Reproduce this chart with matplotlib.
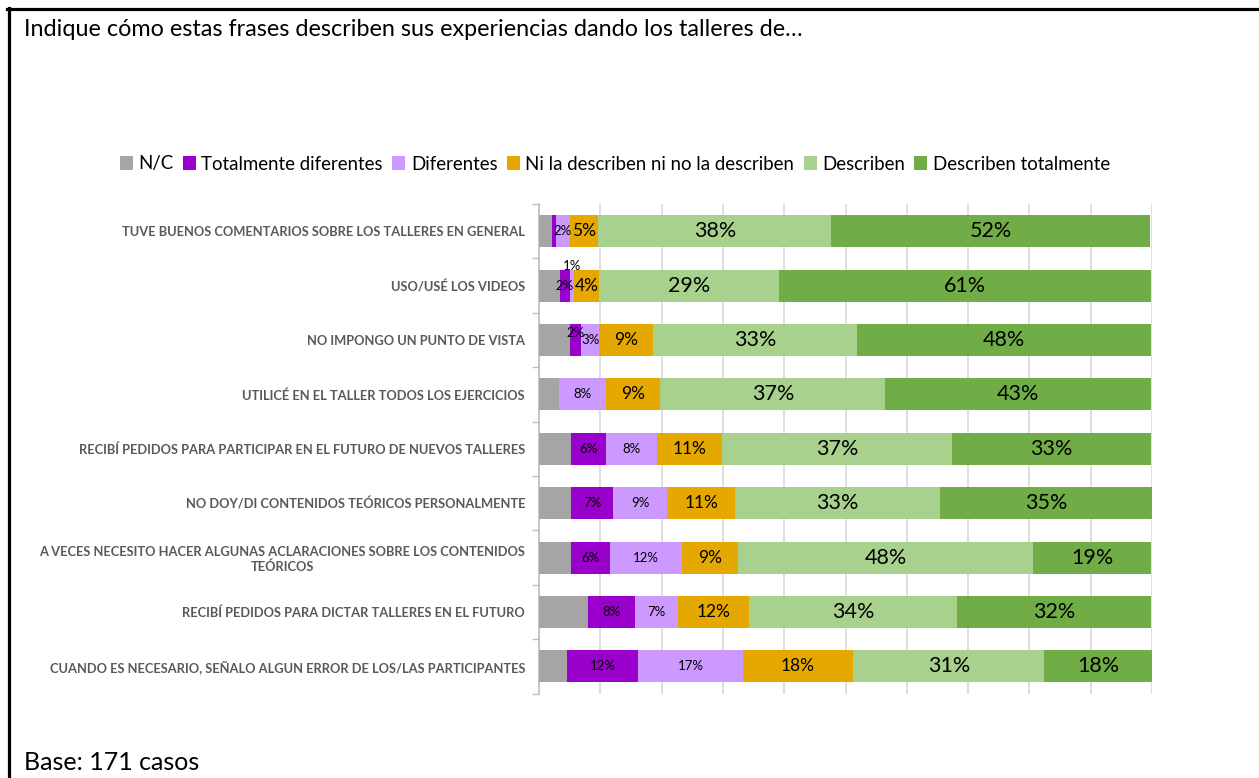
import numpy as np
import matplotlib
matplotlib.use("Agg")
import matplotlib.pyplot as plt
from matplotlib.patches import Patch
from matplotlib.lines import Line2D

plt.rcParams['font.family'] = ['Lato', 'DejaVu Sans']

categories = [
    "TUVE BUENOS COMENTARIOS SOBRE LOS TALLERES EN GENERAL",
    "USO/USÉ LOS VIDEOS",
    "NO IMPONGO UN PUNTO DE VISTA",
    "UTILICÉ EN EL TALLER TODOS LOS EJERCICIOS",
    "RECIBÍ PEDIDOS PARA PARTICIPAR EN EL FUTURO DE NUEVOS TALLERES",
    "NO DOY/DI CONTENIDOS TEÓRICOS PERSONALMENTE",
    "A VECES NECESITO HACER ALGUNAS ACLARACIONES SOBRE LOS CONTENIDOS\nTEÓRICOS",
    "RECIBÍ PEDIDOS PARA DICTAR TALLERES EN EL FUTURO",
    "CUANDO ES NECESARIO, SEÑALO ALGUN ERROR DE LOS/LAS PARTICIPANTES",
]
series_names = ["N/C", "Totalmente diferentes", "Diferentes",
                "Ni la describen ni no la describen", "Describen",
                "Describen totalmente"]

nc = [2.2, 3.4, 5.1, 3.3, 5.2, 5.2, 5.2, 8.0, 4.5]
tot_dif = [0.5, 1.6, 1.8, 0.0, 5.8, 6.9, 6.4, 7.6, 11.7]
dif = [2.4, 0.7, 2.9, 7.7, 8.3, 8.8, 11.7, 7.0, 17.0]
ni_ni = [4.6, 4.1, 8.8, 8.8, 10.6, 11.1, 9.2, 11.6, 18.1]
describen = [38.0, 29.4, 33.3, 36.7, 37.4, 33.4, 48.1, 34.0, 31.1]
desc_tot = [52.0, 60.7, 48.0, 43.4, 32.6, 34.6, 19.3, 31.6, 17.6]

colors = ["#A5A5A5", "#9900CC", "#CC99FF", "#E5A800", "#A9D18E", "#70AD47"]
label_sizes = [None, 9.5, 9.5, 12.5, 15.5, 15.5]
# labels Excel moved off centre: (row, series) -> shift up in bar units
nudges = {(1, 2): 0.36, (2, 1): 0.12}

series = [nc, tot_dif, dif, ni_ni, describen, desc_tot]

fig = plt.figure(figsize=(12.59, 7.78), dpi=100)
ax = fig.add_axes([539 / 1259, 1 - 693.6 / 778, (1152 - 539) / 1259, 489.6 / 778])

y = np.arange(len(categories))
left = np.zeros(len(categories))
for i, vals in enumerate(series):
    vals = np.array(vals)
    ax.barh(y, vals, left=left, height=0.59, color=colors[i], linewidth=0,
            label=series_names[i], zorder=3)
    if label_sizes[i] is not None:
        for r, v in enumerate(vals):
            if round(v) == 0:
                continue
            ax.text(left[r] + v / 2, y[r] - nudges.get((r, i), 0), f"{round(v)}%",
                    ha="center", va="center", fontsize=label_sizes[i],
                    color="black", zorder=4)
    left += vals

ax.set_xlim(0, 100)
ax.set_ylim(len(categories) - 0.5, -0.5)
ax.set_xticks(np.arange(0, 101, 10))
ax.set_xticklabels([])
ax.tick_params(axis="x", length=0)
ax.grid(axis="x", color="#D9D9D9", linewidth=1.2, zorder=0)

ax.set_yticks(y)
ax.set_yticklabels(categories, fontsize=9.3, fontweight="bold", color="#595959")
for lab in ax.get_yticklabels():
    lab.set_multialignment("center")
ax.tick_params(axis="y", which="major", length=0, pad=10)
ax.set_yticks(np.arange(-0.5, len(categories)), minor=True)
ax.tick_params(axis="y", which="minor", length=5, color="#BFBFBF", width=1)

for s in ["top", "right", "bottom"]:
    ax.spines[s].set_visible(False)
ax.spines["left"].set_color("#BFBFBF")
ax.spines["left"].set_linewidth(1.2)

handles = [Patch(facecolor=c, edgecolor="none") for c in colors]
fig.legend(handles, series_names, loc="center", bbox_to_anchor=(615 / 1259, 1 - 164 / 778),
           ncol=6, frameon=False, fontsize=13.4, handlelength=0.7, handleheight=0.7,
           handletextpad=0.3, columnspacing=0.5)

fig.text(24 / 1259, 1 - 36 / 778,
         "Indique cómo estas frases describen sus experiencias dando los talleres de…",
         fontsize=16.8, va="baseline", ha="left")
fig.text(24 / 1259, 1 - 770 / 778, "Base: 171 casos", fontsize=18,
         va="baseline", ha="left")

# frame: top and left edges only, as in the cropped screenshot
fig.add_artist(Line2D([7 / 1259, 1], [1 - 9 / 778, 1 - 9 / 778],
                      transform=fig.transFigure, color="black", lw=2.3))
fig.add_artist(Line2D([9 / 1259, 9 / 1259], [0, 1 - 8 / 778],
                      transform=fig.transFigure, color="black", lw=2.3))

fig.savefig("out.png", dpi=100)
